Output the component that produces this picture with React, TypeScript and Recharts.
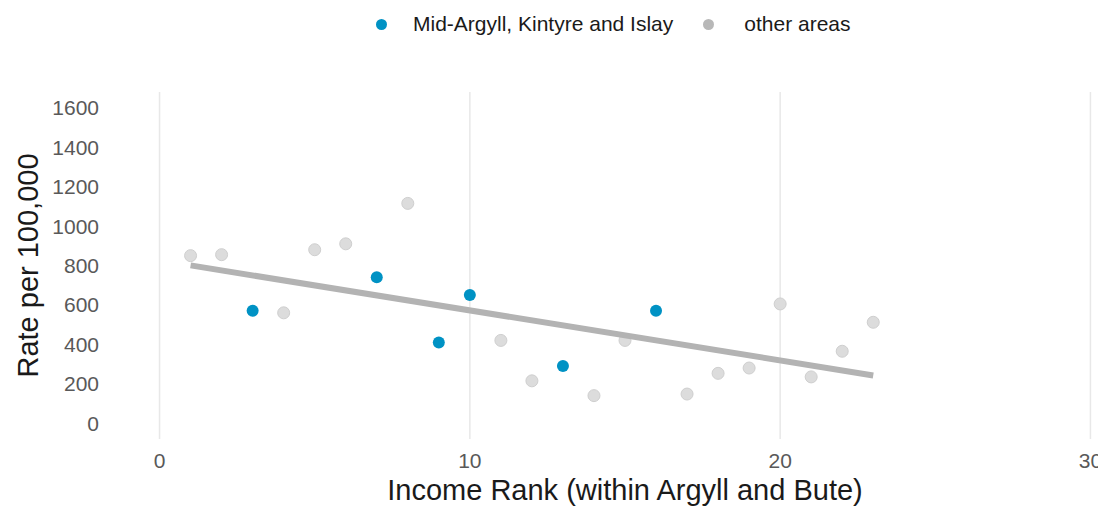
import React from "react";
import { ScatterChart, Scatter, XAxis, YAxis, CartesianGrid, Legend } from "recharts";

const midLabel = "Mid-Argyll, Kintyre and Islay";
const otherLabel = "other areas";

const midRanks = [3, 7, 9, 10, 13, 16];
const midRates = [570, 740, 410, 650, 290, 570];

const otherRanks = [1, 2, 4, 5, 6, 8, 11, 12, 14, 15, 17, 18, 19, 20, 21, 22, 23];
const otherRates = [850, 855, 560, 880, 910, 1115, 420, 215, 140, 420, 148, 253, 280, 605, 235, 365, 512];

const xTicks = [0, 10, 20, 30];
const yTicks = [0, 200, 400, 600, 800, 1000, 1200, 1400, 1600];

const BLUE = "#0092c4";
const FONT = "'Liberation Sans', Arial, Helvetica, sans-serif";

const midData = midRanks.map((x, i) => ({ x, y: midRates[i] }));
const otherData = otherRanks.map((x, i) => ({ x, y: otherRates[i] }));

// least-squares fit over all areas (like geom_smooth(method = "lm"))
const all = [...midData, ...otherData];
const mx = all.reduce((s, p) => s + p.x, 0) / all.length;
const my = all.reduce((s, p) => s + p.y, 0) / all.length;
const sxy = all.reduce((s, p) => s + (p.x - mx) * (p.y - my), 0);
const sxx = all.reduce((s, p) => s + (p.x - mx) * (p.x - mx), 0);
const slope = sxy / sxx;
const minX = Math.min(...all.map((p) => p.x));
const maxX = Math.max(...all.map((p) => p.x));
const trendData = [minX, maxX].map((x) => ({ x, y: my + slope * (x - mx) }));

const MidDot = (props: any) => <circle cx={props.cx} cy={props.cy} r={6} fill={BLUE} />;
const OtherDot = (props: any) => (
  <circle cx={props.cx} cy={props.cy} r={6} fill="#dcdcdc" stroke="#cfcfcf" strokeWidth={1} />
);
const NoDot = () => <g />;

const LegendContent = () => (
  <div
    style={{
      height: 32,
      display: "flex",
      alignItems: "center",
      paddingLeft: 368,
      fontFamily: FONT,
      fontSize: 21,
      color: "#1a1a1a",
    }}
  >
    <span style={{ width: 11, height: 11, borderRadius: "50%", background: BLUE, display: "inline-block" }} />
    <span style={{ marginLeft: 26 }}>{midLabel}</span>
    <span
      style={{
        width: 11,
        height: 11,
        borderRadius: "50%",
        background: "#b8b8b8",
        display: "inline-block",
        marginLeft: 30,
      }}
    />
    <span style={{ marginLeft: 30 }}>{otherLabel}</span>
  </div>
);

const YTitle = (props: any) => {
  const vb = props.viewBox || { x: 0, y: 0, height: 0 };
  const cx = vb.x + 20;
  const cy = vb.y + vb.height / 2;
  return (
    <text
      x={cx}
      y={cy}
      transform={`rotate(-90, ${cx}, ${cy})`}
      textAnchor="middle"
      dominantBaseline="central"
      fontFamily={FONT}
      fontSize={29}
      fill="#1a1a1a"
    >
      Rate per 100,000
    </text>
  );
};

const XTitle = (props: any) => {
  const vb = props.viewBox || { x: 0, y: 0, width: 0 };
  return (
    <text
      x={vb.x + vb.width / 2}
      y={vb.y + 61}
      textAnchor="middle"
      fontFamily={FONT}
      fontSize={29}
      fill="#1a1a1a"
    >
      Income Rank (within Argyll and Bute)
    </text>
  );
};

const gridX = (args: any) => {
  const scale = args?.xAxis?.scale;
  if (scale && typeof scale === "function") return xTicks.map((t) => scale(t));
  if (scale && typeof scale.map === "function") return xTicks.map((t) => scale.map(t));
  return [];
};

export default function App() {
  return (
    <div style={{ width: 1098, height: 498, overflow: "hidden", position: "relative" }}>
      <ScatterChart width={1129} height={498} margin={{ top: 52, right: 0, bottom: 0, left: 0 }}>
        <CartesianGrid
          horizontal={false}
          stroke="#e8e8e8"
          strokeWidth={1.5}
          verticalCoordinatesGenerator={gridX}
        />
        <XAxis
          type="number"
          dataKey="x"
          domain={[-1.5, 31.5]}
          ticks={xTicks}
          allowDataOverflow
          axisLine={false}
          tickLine={false}
          tickSize={0}
          tickMargin={14}
          height={67}
          tick={{ fontFamily: FONT, fontSize: 21, fill: "#595959" }}
          label={{ content: XTitle }}
        />
        <YAxis
          type="number"
          dataKey="y"
          domain={[-80, 1680]}
          ticks={yTicks}
          allowDataOverflow
          axisLine={false}
          tickLine={false}
          tickSize={0}
          tickMargin={14}
          width={105}
          tick={{ fontFamily: FONT, fontSize: 21, fill: "#595959" }}
          label={{ content: YTitle }}
        />
        <Legend
          verticalAlign="top"
          content={LegendContent}
          wrapperStyle={{ top: 0, left: 0, width: 1098, height: 32 }}
        />
        <Scatter name={otherLabel} data={otherData} shape={OtherDot} isAnimationActive={false} />
        <Scatter name={midLabel} data={midData} shape={MidDot} isAnimationActive={false} />
        <Scatter
          name="trend"
          data={trendData}
          shape={NoDot}
          line={{ stroke: "#b3b3b3", strokeWidth: 6 }}
          legendType="none"
          isAnimationActive={false}
        />
      </ScatterChart>
    </div>
  );
}
